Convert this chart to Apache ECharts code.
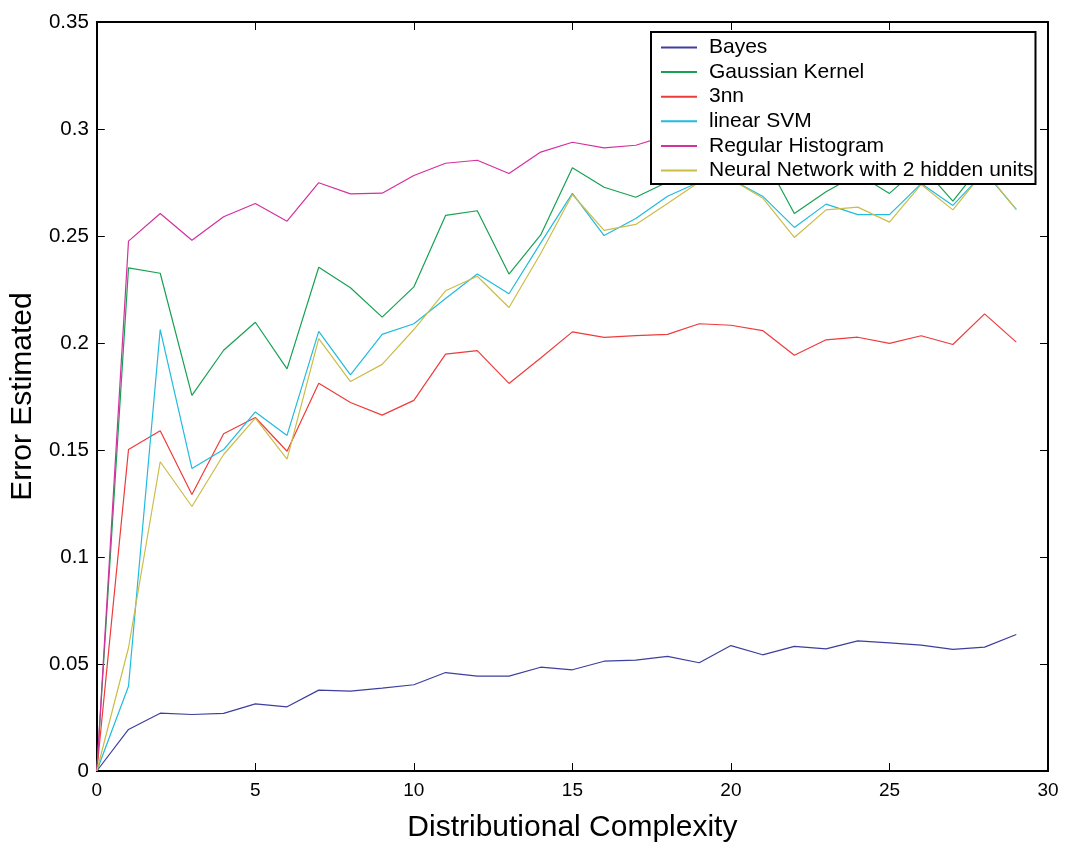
<!DOCTYPE html>
<html>
<head>
<meta charset="utf-8">
<script src="https://cdn.jsdelivr.net/npm/echarts@6/dist/echarts.min.js"></script>
<style>
html,body{margin:0;padding:0;background:#fff;}
#c{width:1065px;height:848px;}
</style>
</head>
<body>
<div id="c"></div>
<script>
const xValues = [0,1,2,3,4,5,6,7,8,9,10,11,12,13,14,15,16,17,18,19,20,21,22,23,24,25,26,27,28,29];
const seriesNames = ["Bayes","Gaussian Kernel","3nn","linear SVM","Regular Histogram","Neural Network with 2 hidden units"];
const bayes = [0,0.0194,0.027,0.0264,0.0269,0.0314,0.030,0.0378,0.0373,0.0387,0.0403,0.046,0.0443,0.0443,0.0485,0.0473,0.0513,0.0518,0.0536,0.0506,0.0586,0.0543,0.0582,0.0571,0.0608,0.0599,0.0588,0.0568,0.0579,0.0638];
const gaussianKernel = [0,0.2351,0.2326,0.1755,0.1966,0.2097,0.1879,0.2354,0.2258,0.2121,0.2262,0.2596,0.2618,0.2322,0.2505,0.2819,0.2728,0.2681,0.2752,0.279,0.281,0.288,0.2605,0.2707,0.279,0.2699,0.283,0.2663,0.285,0.2748];
const knn3 = [0,0.1502,0.159,0.1292,0.1576,0.1652,0.1494,0.1812,0.1722,0.1663,0.1732,0.1948,0.1964,0.1811,0.193,0.2052,0.2026,0.2034,0.204,0.209,0.2083,0.2058,0.1943,0.2015,0.2027,0.1998,0.2034,0.1993,0.2136,0.2004];
const linearSVM = [0,0.0396,0.2063,0.1414,0.1502,0.1678,0.1568,0.2054,0.1851,0.204,0.209,0.2208,0.2322,0.223,0.2468,0.2699,0.2502,0.2582,0.2686,0.2752,0.2765,0.2686,0.254,0.2649,0.26,0.26,0.2745,0.2643,0.28,0.2624];
const regularHistogram = [0,0.2476,0.2605,0.248,0.259,0.2652,0.2569,0.2749,0.2697,0.27,0.2783,0.284,0.2854,0.2792,0.2892,0.2938,0.2912,0.2924,0.297,0.298,0.300,0.299,0.301,0.300,0.302,0.301,0.303,0.302,0.304,0.303];
const neuralNetwork = [0,0.0576,0.1445,0.1236,0.1479,0.1649,0.1457,0.202,0.182,0.19,0.2063,0.2244,0.2312,0.2166,0.2418,0.2694,0.2526,0.2554,0.2652,0.2752,0.2765,0.2678,0.2493,0.2622,0.2635,0.2565,0.2741,0.2622,0.2805,0.2623];
const seriesValues = [bayes, gaussianKernel, knn3, linearSVM, regularHistogram, neuralNetwork];
const colors = ["#3d3f9e","#17a152","#ee3b3b","#20bbde","#d4309e","#cbbd48"];

const FONT = "Liberation Sans, Arial, sans-serif";
const chart = echarts.init(document.getElementById('c'), null, {renderer:'canvas'});

const series = seriesNames.map((name, i) => ({
  name: name,
  type: 'line',
  xAxisIndex: 0,
  yAxisIndex: 0,
  data: xValues.map((x, j) => [x, seriesValues[i][j]]),
  showSymbol: false,
  symbol: 'none',
  lineStyle: {color: colors[i], width: 1.2},
  itemStyle: {color: colors[i]},
  animation: false,
  z: 2
}));

const axisCommon = {
  type: 'value',
  axisLine: {show: true, onZero: false, lineStyle: {color: '#000', width: 2}},
  axisTick: {show: true, inside: true, length: 8, lineStyle: {color: '#000', width: 1}},
  splitLine: {show: false}
};

chart.setOption({
  backgroundColor: '#fff',
  animation: false,
  color: colors,
  grid: {left: 96, right: 17, top: 22, bottom: 77, containLabel: false},
  xAxis: [
    Object.assign({}, axisCommon, {
      position: 'bottom', min: 0, max: 30, interval: 5,
      axisLabel: {show: true, color: '#000', fontSize: 19, fontFamily: FONT, margin: 10},
      name: 'Distributional Complexity', nameLocation: 'middle', nameGap: 42,
      nameTextStyle: {color: '#000', fontSize: 30, fontFamily: FONT}
    }),
    Object.assign({}, axisCommon, {
      position: 'top', min: 0, max: 30, interval: 5,
      axisLabel: {show: false}
    })
  ],
  yAxis: [
    Object.assign({}, axisCommon, {
      position: 'left', min: 0, max: 0.35, interval: 0.05,
      axisLabel: {show: true, color: '#000', fontSize: 20.5, fontFamily: FONT, margin: 8},
      name: 'Error Estimated', nameLocation: 'middle', nameGap: 55, nameRotate: 90,
      nameTextStyle: {color: '#000', fontSize: 30, fontFamily: FONT}
    }),
    Object.assign({}, axisCommon, {
      position: 'right', min: 0, max: 0.35, interval: 0.05,
      axisLabel: {show: false}
    })
  ],
  legend: {
    show: true,
    orient: 'vertical',
    left: 651,
    top: 32,
    padding: [5, 2, 3, 10],
    itemGap: 3.6,
    itemWidth: 36,
    itemHeight: 2,
    icon: 'rect',
    backgroundColor: '#fff',
    borderColor: '#000',
    borderWidth: 2,
    borderRadius: 0,
    textStyle: {color: '#000', fontSize: 21, fontFamily: FONT, lineHeight: 19, padding: [0,0,0,7]},
    data: seriesNames,
    z: 10
  },
  series: series
});
</script>
</body>
</html>
